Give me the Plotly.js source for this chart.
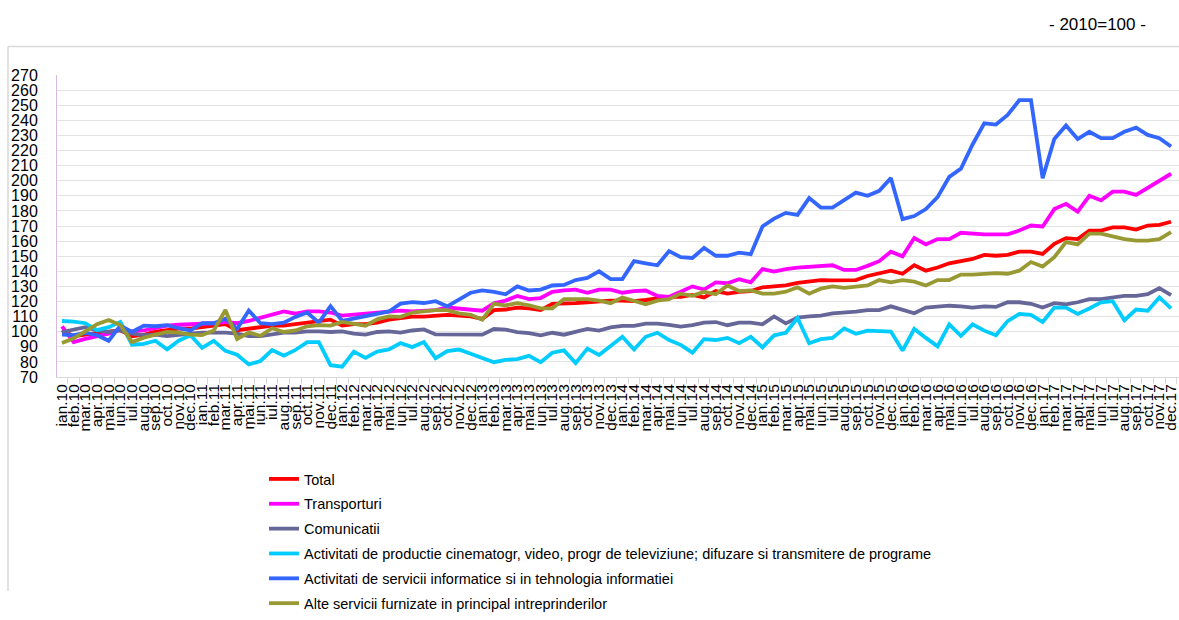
<!DOCTYPE html>
<html>
<head>
<meta charset="utf-8">
<script src="https://cdn.plot.ly/plotly-3.0.1.min.js"></script>
<style>html,body{margin:0;padding:0;background:#fff;}#chart{width:1179px;height:620px;}</style>
</head>
<body>
<div id="chart"></div>
<script>
const labels = ["ian.10","feb.10","mar.10","apr.10","mai.10","iun.10","iul.10","aug.10","sep.10","oct.10","nov.10","dec.10",
"ian.11","feb.11","mar.11","apr.11","mai.11","iun.11","iul.11","aug.11","sep.11","oct.11","nov.11","dec.11",
"ian.12","feb.12","mar.12","apr.12","mai.12","iun.12","iul.12","aug.12","sep.12","oct.12","nov.12","dec.12",
"ian.13","feb.13","mar.13","apr.13","mai.13","iun.13","iul.13","aug.13","sep.13","oct.13","nov.13","dec.13",
"ian.14","feb.14","mar.14","apr.14","mai.14","iun.14","iul.14","aug.14","sep.14","oct.14","nov.14","dec.14",
"ian.15","feb.15","mar.15","apr.15","mai.15","iun.15","iul.15","aug.15","sep.15","oct.15","nov.15","dec.15",
"ian.16","feb.16","mar.16","apr.16","mai.16","iun.16","iul.16","aug.16","sep.16","oct.16","nov.16","dec.16",
"ian.17","feb.17","mar.17","apr.17","mai.17","iun.17","iul.17","aug.17","sep.17","oct.17","nov.17","dec.17"];

const yTicks = [70,80,90,100,110,120,130,140,150,160,170,180,190,200,210,220,230,240,250,260,270];

const total = [101,97,98,99,100,101,97,98,100,101,102,102,103,104,105,101,102,103,104,104,105,106,107,108,104,105,105,106,108,109,110,110,
110.6,111.2,110.6,110.1,108.5,114.3,114.7,116,115.4,114.3,118.5,118.5,118.9,119.5,120.2,120.6,120.6,120.2,121,122.3,123.1,123.1,124.4,122.7,126.9,125.2,126.4,126.9,129.4,130,130.7,132.4,
133.1,134.2,134,134.2,134.2,136.9,138.4,140.4,138.4,144,140.4,142.5,145.3,146.7,148.2,150.9,150.3,150.9,153,153,151.5,158.2,162,161.3,167,167,169.1,169.1,167.6,170.3,170.7,172.8];

const transporturi = [103.6,93.1,95.2,97.1,98.7,101.5,100.2,100.8,102.3,104,104.6,105,105,105.6,106.5,105.6,107.1,109.2,111.3,113.4,111.9,113.4,113.4,112.7,110.7,111.3,112.3,112.3,113.4,114,113.4,114,
114.3,116,115.4,114.7,113.9,118.9,120.6,123.7,121.6,122.3,126.4,127.3,127.9,125.8,127.9,127.9,125.8,126.9,127.3,123.7,123.1,126.4,130,127.9,132.7,132.1,134.8,132.7,141.5,139.8,141.5,142.5,
143.2,143.6,144,140.9,140.9,143.6,146.7,153,149.9,162,157.8,161.3,161.3,165.5,164.9,164.5,164.5,164.5,167,170.3,169.7,181.2,184.7,179.5,190,187,192.7,192.7,190.6,195.4,200,204.6];

const comunicatii = [99.8,101.5,103,100.8,99.8,100.8,98.7,97.7,98.1,97.1,98.1,98.7,99.4,99.4,99.4,98.7,97.1,97.1,98.1,99.4,99.4,100.2,100.2,99.8,100.2,98.7,98.1,99.8,100.2,99.4,100.8,101.5,
98.2,98.2,97.6,97.6,98,101.8,101.4,99.7,99.1,97.6,99.3,98,100.1,101.8,100.7,102.8,103.9,103.9,105.3,105.3,104.5,103.4,104.3,106,106.4,104.3,106,106,104.9,110.1,105.5,109.4,
110.2,110.6,112.2,112.6,113.3,114.3,114.3,116.8,114.7,112.2,116,116.8,117.2,116.8,116,116.8,116.4,119.5,119.5,118.5,116,118.9,118.1,119.5,121.6,121.6,122.7,123.7,123.7,124.8,128.9,124.3];

const cinematografie = [107.1,106.7,105.6,101,103,106.5,91.4,92,94,88.3,94,97.7,89.3,94,87.3,84.7,78.3,80.6,87.9,84.1,87.9,93.1,93.1,77.8,76.8,86.8,82.7,86.8,88.3,92.5,89.8,93.1,
82.5,87.1,88.2,85.5,82.5,79.8,81.3,81.9,84,79.8,86.1,87.6,79.2,88.8,84.6,90.3,96.6,88.2,96.6,99.3,94.5,91.3,86.1,95.1,94.5,95.9,92.4,96.6,89.7,97.6,99.3,109.1,
92.4,95.1,95.9,102.2,98.6,100.7,100.7,100.1,87.5,101.8,95.9,90.3,104.9,97.2,104.9,100.7,97.6,107,111.8,111.2,106.4,116,116,111.8,115.4,119.5,120.2,107.6,114.7,113.9,122.7,115.4];

const informatice = [98.1,97.7,99.2,97.7,94,104,99.8,104,103.6,104.4,102.3,100.8,105.6,105.6,108.6,101.9,114,105.6,105,106,109.8,112.7,106,116.9,107.1,108.6,110.2,111.9,113.4,118.6,119.6,119,
120.2,116.8,121.6,125.8,127.3,126.4,124.8,130,127.3,127.9,130.6,131,134.2,135.6,140,134.8,134.8,146.7,145.3,144,153.4,149.4,148.8,155.5,150.3,150.3,152.3,151.3,169.7,174.9,178.7,177.4,
188.5,182.2,182.2,187,192.1,190,193.3,201.7,174.5,176.6,181.2,189.1,202.5,208,224,238,237.2,243.5,253.3,253.3,201.7,227.6,236.6,227.6,232.4,228.2,228.2,232.4,235.1,230.3,228.2,222.6];

const alteServicii = [92.5,95.6,100.2,105,107.7,104.4,93.1,96,98.1,99.8,99.4,98.1,97.7,100.8,114.4,95.2,99.4,97.3,102.3,99.8,100.8,103.6,104.4,104,106.5,105,104,108.2,110.2,109.8,112.7,113.5,
114.3,114.3,112.2,111.2,108,118.5,117.5,118.9,117.5,115.4,115.4,121.6,121.6,121.6,120.6,118.9,122.7,120.2,118.1,120.6,121.6,125.2,123.7,126.4,124.8,130.6,126.9,127.3,125.2,125.2,126.5,129.4,
125.2,128.5,130,129,130,130.6,134.2,132.7,134.2,133.1,130.6,134.2,134.2,137.8,137.8,138.4,138.8,138.4,140.4,146.1,143.2,149.4,159.3,157.8,164.9,164.9,163,161.3,160.3,160.3,161.3,165.9];

const seriesNames = ["Total","Transporturi","Comunicatii",
  "Activitati de productie cinematogr, video, progr de televiziune; difuzare si transmitere de programe",
  "Activitati de servicii informatice si in tehnologia informatiei",
  "Alte servicii furnizate in principal intreprinderilor"];
const seriesValues = [total, transporturi, comunicatii, cinematografie, informatice, alteServicii];
const seriesColors = ["#ff0000","#ff00ff","#666699","#00ccff","#3366ff","#999933"];

const W = 1179, H = 620;
const mL = 57, mR = 0, mT = 75, mB = 226;
const pw = W - mL - mR, ph = H - mT - mB;
const px = x => (x - mL) / pw;
const py = y => (H - mB - y) / ph;

const traces = seriesValues.map((vals, k) => ({
  type: 'scatter', mode: 'lines', x: labels, y: vals, name: seriesNames[k],
  legendgroup: 'g' + k,
  line: {color: seriesColors[k], width: 3.8}
}));

const layout = {
  width: W, height: H,
  margin: {l: mL, r: mR, t: mT, b: mB, pad: 0},
  paper_bgcolor: '#fff', plot_bgcolor: '#fff',
  showlegend: true,
  legend: {
    x: px(264), xanchor: 'left', y: py(485), yanchor: 'top',
    orientation: 'v', tracegroupgap: 3,
    font: {family: 'Liberation Sans, Arial, sans-serif', size: 14.5, color: '#000'},
    bgcolor: 'rgba(0,0,0,0)'
  },
  xaxis: {
    type: 'category', categoryorder: 'array', categoryarray: labels,
    tickmode: 'array', tickvals: labels, ticktext: labels,
    range: [-0.428, 95.68], tickangle: -90,
    tickfont: {family: 'Liberation Sans, Arial, sans-serif', size: 15.5, color: '#000'},
    showgrid: false, zeroline: false, showline: true, linecolor: '#d9d9d9', linewidth: 1,
    ticks: 'outside', tickson: 'boundaries', ticklen: 6, tickcolor: '#d9d9d9', tickwidth: 1,
    automargin: false, fixedrange: true
  },
  yaxis: {
    range: [70, 270], tickmode: 'array', tickvals: yTicks, ticktext: yTicks.map(String),
    tickfont: {family: 'Liberation Sans, Arial, sans-serif', size: 16, color: '#000'},
    showgrid: true, gridcolor: '#e3e3e3', gridwidth: 1,
    zeroline: false, showline: true, linecolor: '#d9b8de', linewidth: 1,
    ticks: '', ticklabelstandoff: 15, automargin: false, fixedrange: true
  },
  shapes: [
    {type: 'line', xref: 'paper', yref: 'paper', x0: px(8), x1: px(1179), y0: py(45), y1: py(45), line: {color: '#d9d9d9', width: 1.5}},
    {type: 'line', xref: 'paper', yref: 'paper', x0: px(8), x1: px(8), y0: py(45), y1: py(620), line: {color: '#d9d9d9', width: 1.5}}
  ],
  annotations: [
    {xref: 'paper', yref: 'paper', x: px(1097), y: py(22), xanchor: 'center', yanchor: 'middle', showarrow: false,
     text: '- 2010=100 -', font: {family: 'Liberation Sans, Arial, sans-serif', size: 17, color: '#000'}}
  ]
};

Plotly.newPlot('chart', traces, layout, {displayModeBar: false, staticPlot: true});
</script>
</body>
</html>
